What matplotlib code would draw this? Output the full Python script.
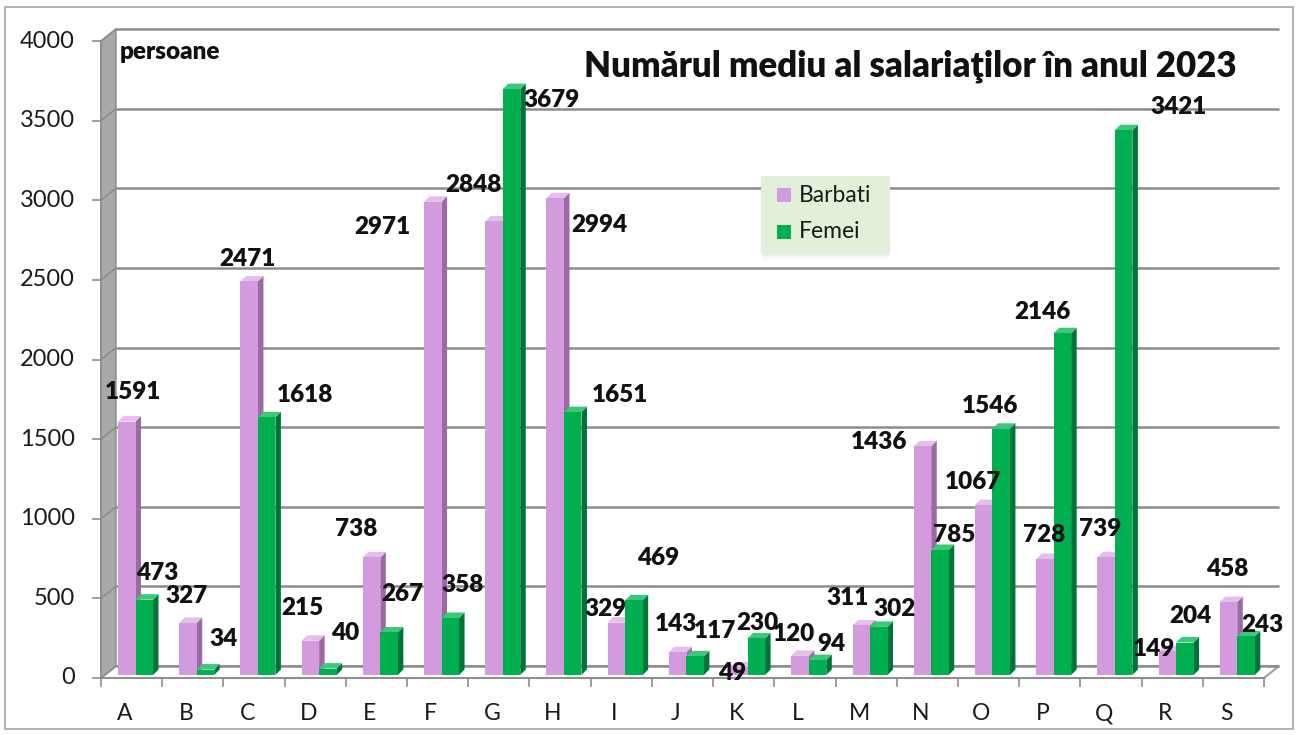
import matplotlib
matplotlib.use("Agg")
import matplotlib.pyplot as plt
from matplotlib.patches import Polygon, Rectangle

plt.rcParams['font.family'] = ['Lato', 'DejaVu Sans']

# ---------------- data ----------------
categories = ["A", "B", "C", "D", "E", "F", "G", "H", "I", "J",
              "K", "L", "M", "N", "O", "P", "Q", "R", "S"]
barbati = [1591, 327, 2471, 215, 738, 2971, 2848, 2994, 329, 143,
           49, 120, 311, 1436, 1067, 728, 739, 149, 458]
femei = [473, 34, 1618, 40, 267, 358, 3679, 1651, 469, 117,
         230, 94, 302, 785, 1546, 2146, 3421, 204, 243]
series_names = ["Barbati", "Femei"]
title = "Numărul mediu al salariaţilor în anul 2023"
unit_label = "persoane"
y_ticks = [0, 500, 1000, 1500, 2000, 2500, 3000, 3500, 4000]

# label offsets (pixels, relative to bar top centre) - layout only
off_b = [(6.5, 32.6), (-1.7, 29.9), (-1.9, 25.5), (-8.1, 35.8), (-15.3, 31.5),
         (-50.5, -22.1), (-20.7, 39.5), (44.1, -23.8), (-11.1, 16.6), (-1.3, 31.2),
         (-6.5, -2.8), (-5.7, 24.9), (-13.9, 30.5), (-43.1, 7.3), (-10.3, 26.1),
         (-0.5, 27.1), (-5.7, 31.3), (-12.9, 5.3), (-1.1, 36.1)]
off_f = [(12.8, 29.7), (17.6, 33.6), (38.4, 25.3), (17.2, 38.6), (13.0, 41.5),
         (12.8, 36), (39.6, -7.9), (47.4, 20.1), (24.2, 45.3), (20.0, 28.4),
         (0.8, 18.4), (13.6, 19), (15.4, 20.9), (14.2, 18), (-11.1, 25.8),
         (-20.3, 24.2), (54.6, 26.2), (5.4, 29.5), (16.2, 14.3)]

# ---------------- layout ----------------
W, H = 1298, 735
fig = plt.figure(figsize=(W / 100, H / 100), dpi=100)
fig.patch.set_facecolor("white")

ax_l, ax_r, ax_b, ax_t = 101, 1264, 678, 41  # pixel box (top-origin y)
ax = fig.add_axes([ax_l / W, (H - ax_b) / H, (ax_r - ax_l) / W, (ax_b - ax_t) / H])
n = len(categories)
ymax = 4000
ax.set_xlim(0, n)
ax.set_ylim(0, ymax)
ax.axis("off")

pxx = (ax_r - ax_l) / n          # px per category
pxy = (ax_b - ax_t) / ymax       # px per value unit
def dx(p): return p / pxx
def dy(p): return p / pxy

DX, DY = dx(15), dy(12)
grid_c = "#8c8c8c"
txt_c = "#111111"

# outer chart border
fig.patches.append(Rectangle((5 / W, 6 / H), 1288 / W, 722 / H, transform=fig.transFigure,
                             fill=False, edgecolor="#a6a6a6", lw=1.2))

# left wall
ax.add_patch(Polygon([(0, 0), (0, ymax), (DX, ymax + DY), (DX, DY)], closed=True,
                     facecolor="#a9a9a9", edgecolor="#8a8a8a", lw=1, clip_on=False, zorder=1))
# floor
ax.add_patch(Polygon([(0, 0), (n, 0), (n + DX, DY), (DX, DY)], closed=True,
                     facecolor="white", edgecolor="#a0a0a0", lw=1.5, clip_on=False, zorder=1))
# back gridlines
for v in y_ticks:
    ax.plot([DX, n + DX], [v + DY, v + DY], color=grid_c, lw=1.8, clip_on=False, zorder=1.5,
            solid_capstyle="butt")
    ax.plot([0, DX], [v, v + DY], color=grid_c, lw=1.2, clip_on=False, zorder=1.5)

# front axes lines
ax.plot([0, 0], [0, ymax], color=grid_c, lw=1.2, clip_on=False, zorder=2)
ax.plot([0, n], [0, 0], color=grid_c, lw=1.2, clip_on=False, zorder=2)
for v in y_ticks:
    ax.plot([-dx(8), 0], [v, v], color=grid_c, lw=1.2, clip_on=False, zorder=2)
    ax.text(-dx(26), v, str(v), ha="right", va="center", fontsize=17, color="#1a1a1a")
for i in range(n + 1):
    ax.plot([i, i], [0, -dy(8)], color=grid_c, lw=1.2, clip_on=False, zorder=2)
for i, c in enumerate(categories):
    ax.text(i + 0.5 - dx(7), -dy(36), c, ha="center", va="center", fontsize=16.5, color="#1a1a1a")

# ---------------- 3D bars ----------------
bw = dx(17.5)
bdx, bdy = dx(5.5), dy(5.5)
base = dy(3)
pink = ("#d49ade", "#9b6aa6", "#e6bdec")
green = ("#00b050", "#00753a", "#3cc878")

def bar3d(x0, v, cols, z):
    fcol, scol, tcol = cols
    top = v + base
    ax.add_patch(Polygon([(x0 + bw, base), (x0 + bw + bdx, base + bdy),
                          (x0 + bw + bdx, top + bdy), (x0 + bw, top)], closed=True,
                         facecolor=scol, edgecolor="none", zorder=z, clip_on=False))
    ax.add_patch(Polygon([(x0, top), (x0 + bw, top), (x0 + bw + bdx, top + bdy),
                          (x0 + bdx, top + bdy)], closed=True,
                         facecolor=tcol, edgecolor="none", zorder=z, clip_on=False))
    ax.add_patch(Rectangle((x0, base), bw, v, facecolor=fcol, edgecolor="none",
                           zorder=z, clip_on=False))

pink_off = dx(118 - ax_l)
for i in range(n):
    xb = i + pink_off
    xf = xb + bw
    bar3d(xb, barbati[i], pink, 3 + i * 0.01)
    bar3d(xf, femei[i], green, 3 + i * 0.01 + 0.005)

# data labels
for i in range(n):
    for vals, offs, xoff in ((barbati, off_b, pink_off + bw / 2),
                             (femei, off_f, pink_off + bw * 1.5)):
        ox, oy = offs[i]
        ax.annotate(str(vals[i]), xy=(i + xoff, vals[i]), xytext=(ox, oy),
                    textcoords="offset pixels", ha="center", va="center",
                    fontsize=17.5, fontweight="heavy", color=txt_c, zorder=10,
                    annotation_clip=False)

# title & unit
fig.text(910 / W, 1 - 66 / H, title, ha="center", va="center", fontsize=25,
         fontweight="heavy", color=txt_c)
fig.text(120 / W, 1 - 52 / H, unit_label, ha="left", va="center", fontsize=17.5,
         fontweight="heavy", color=txt_c)

# legend (drawn manually to match the reference box)
lx0, ly0, lw_, lh_ = 761, 176, 129, 75
for k, a in enumerate([0.05, 0.05, 0.04, 0.03]):
    fig.patches.append(Rectangle(((lx0 - 1 + k) / W, 1 - (ly0 + lh_ + 3 + 2 * k) / H),
                                 (lw_ + 2 - 2 * k) / W, (lh_ + 2) / H,
                                 transform=fig.transFigure, facecolor="#6b8f5a",
                                 edgecolor="none", alpha=a, zorder=0.5))
fig.patches.append(Rectangle((lx0 / W, 1 - (ly0 + lh_) / H), lw_ / W, lh_ / H,
                             transform=fig.transFigure, facecolor="#e2efd9",
                             edgecolor="none", zorder=1))
for k, (name, col) in enumerate(zip(series_names, (pink[0], green[0]))):
    cy = 195 + 37 * k
    fig.patches.append(Rectangle((777 / W, 1 - (cy + 7) / H), 14 / W, 14 / H,
                                 transform=fig.transFigure, facecolor=col,
                                 edgecolor="none", zorder=2))
    fig.text(799 / W, 1 - cy / H, name, ha="left", va="center", fontsize=16.5,
             color="#1a1a1a", zorder=3)

fig.savefig("out.png", dpi=100)
